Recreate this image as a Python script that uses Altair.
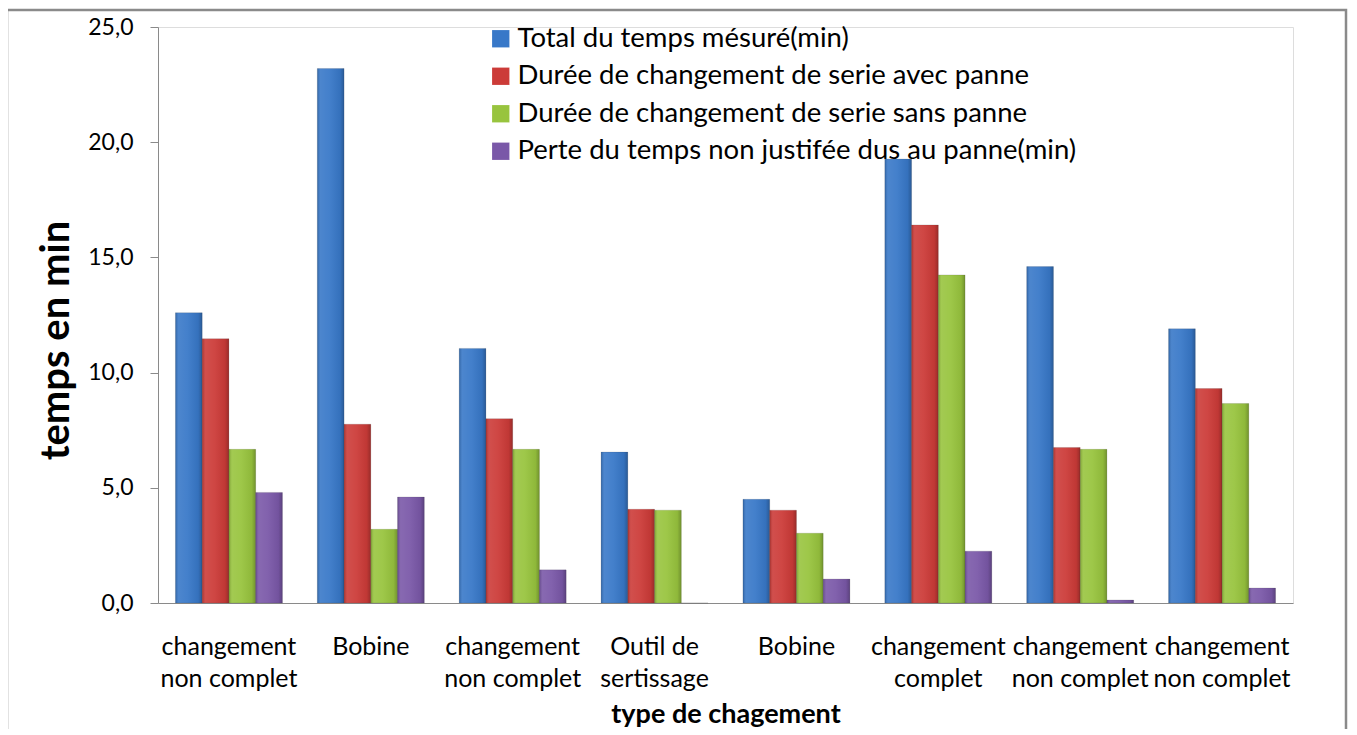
import altair as alt
import pandas as pd

categories = ["changement\nnon complet", "Bobine", "changement\nnon complet", "Outil de\nsertissage",
              "Bobine", "changement\ncomplet", "changement\nnon complet", "changement\nnon complet"]
series = ["Total du temps mésuré(min)",
          "Durée de changement de serie avec panne",
          "Durée de changement de serie sans panne",
          "Perte du temps non justifée dus au panne(min)"]
total = [12.6, 23.2, 11.05, 6.55, 4.5, 19.27, 14.6, 11.9]
avec_panne = [11.47, 7.76, 8.0, 4.07, 4.03, 16.41, 6.75, 9.31]
sans_panne = [6.67, 3.2, 6.67, 4.03, 3.03, 14.24, 6.67, 8.66]
perte = [4.8, 4.6, 1.44, 0.0, 1.04, 2.25, 0.13, 0.65]
colors = ["#3878c8", "#cc3b38", "#98c43e", "#7a58a8"]

rows = []
for vals, s in zip([total, avec_panne, sans_panne, perte], series):
    for i, v in enumerate(vals):
        rows.append({"idx": i, "cat": categories[i], "series": s, "value": v})
df = pd.DataFrame(rows)

FONT = "Lato"
label_array = "[" + ",".join("'" + c.replace("\n", "\\n") + "'" for c in categories) + "]"

x_enc = alt.X("idx:O", title="type de chagement",
              scale=alt.Scale(paddingInner=0.246, paddingOuter=0.123),
              axis=alt.Axis(labelExpr="split(" + label_array + "[datum.value], '\\n')",
                            labelAngle=0, labelFontSize=25, labelLineHeight=32,
                            labelPadding=31, ticks=False, domainColor="#8a8a8a",
                            labelColor="#000", titleFontSize=27, titleFontWeight="bold",
                            titleColor="#000", titlePadding=10, labelFont=FONT, titleFont=FONT))
xoff = alt.XOffset("series:N", scale=alt.Scale(domain=series))
y_enc = alt.Y("value:Q", title="temps en min",
              scale=alt.Scale(domain=[0, 25], nice=False),
              axis=alt.Axis(values=[0, 5, 10, 15, 20, 25],
                            labelExpr="replace(format(datum.value, '.1f'), '.', ',')",
                            grid=False, tickSize=8, tickColor="#8a8a8a", domainColor="#8a8a8a",
                            labelFontSize=23, labelColor="#000", labelPadding=17,
                            titleFontSize=40, titleFontWeight="bold", titleColor="#000",
                            titleAngle=-90, titleX=-90, titleY=313, titleAlign="center",
                            titleBaseline="alphabetic", labelFont=FONT, titleFont=FONT))

bars = alt.Chart(df).mark_bar(stroke="#333", strokeWidth=0.3, strokeOpacity=0.5).encode(
    x=x_enc, xOffset=xoff, y=y_enc,
    color=alt.Color("series:N", scale=alt.Scale(domain=series, range=colors),
                    legend=alt.Legend(title=None, orient="none", legendX=329, legendY=-2,
                                      labelFontSize=27.5, labelFont=FONT, labelColor="#000",
                                      symbolType="square", symbolSize=300, symbolStrokeWidth=0,
                                      rowPadding=8.5, labelOffset=3, labelLimit=700))
)

shade = alt.Chart(df).mark_bar(color=alt.Gradient(
    gradient="linear", x1=0, x2=1, y1=0, y2=0,
    stops=[alt.GradientStop(offset=0, color="rgba(0,0,0,0.18)"),
           alt.GradientStop(offset=0.12, color="rgba(255,255,255,0.10)"),
           alt.GradientStop(offset=0.45, color="rgba(255,255,255,0.06)"),
           alt.GradientStop(offset=0.85, color="rgba(0,0,0,0.06)"),
           alt.GradientStop(offset=1, color="rgba(0,0,0,0.25)")])).encode(
    x=alt.X("idx:O"), xOffset=xoff, y=alt.Y("value:Q")
)

border = alt.Chart(pd.DataFrame({"a": [0]})).mark_rect(
    fill=None, stroke="#8a8a8a", strokeWidth=2.5, clip=False).encode(
    x=alt.value(-151), x2=alt.value(1188), y=alt.value(-17), y2=alt.value(740)
)

chart = alt.layer(border, bars, shade).properties(
    width=1135, height=576,
    autosize=alt.AutoSizeParams(type="none"),
    padding={"left": 150, "top": 19, "right": 55, "bottom": 126},
).configure_view(stroke=None).configure(font=FONT, background="white")

chart.save("out.html", embed_options={"renderer": "svg", "actions": False})
